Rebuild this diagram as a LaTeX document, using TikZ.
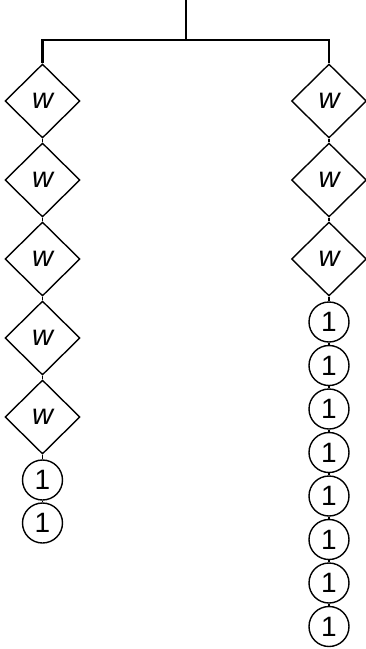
\documentclass[tikz,border=0pt]{standalone}
\usepackage{fontspec}
\setmainfont{Liberation Sans}
\usetikzlibrary{shapes.geometric}
\begin{document}
\begin{tikzpicture}[x=1pt,y=-1pt,
  dia/.style={diamond,draw,line width=1.4pt,inner sep=0pt,minimum width=75pt,minimum height=74pt,font=\fontsize{29}{30}\selectfont\itshape},
  one/.style={circle,draw,line width=1.4pt,inner sep=0pt,minimum size=40pt,font=\fontsize{28}{30}\selectfont},
  link/.style={line width=1.6pt},
  bar/.style={line width=2.4pt}]
\useasboundingbox (0,0) rectangle (365,649);
\coordinate (top) at (186,0);
\coordinate (j) at (186,40);
% left column
\foreach \i/\y in {1/101,2/180,3/259,4/338,5/417}
  \node[dia] (l\i) at (42.5,\y) {w};
\node[one] (lc1) at (42.5,480) {1};
\node[one] (lc2) at (42.5,523) {1};
% right column
\foreach \i/\y in {1/101,2/180,3/259}
  \node[dia] (r\i) at (329,\y) {w};
\foreach \i in {1,...,8}
  \node[one] (rc\i) at (329,{322+43.5*(\i-1)}) {1};
% tree
\draw[bar] (top) -- (j);
\draw[bar] (l1.north) -- (l1.north |- j) -- (r1.north |- j) -- (r1.north);
% chains
\foreach \a/\b in {l1/l2,l2/l3,l3/l4,l4/l5,l5/lc1,lc1/lc2,r1/r2,r2/r3,r3/rc1,rc1/rc2,rc2/rc3,rc3/rc4,rc4/rc5,rc5/rc6,rc6/rc7,rc7/rc8}
  \draw[link] (\a.south) -- (\b.north);
\end{tikzpicture}
\end{document}
